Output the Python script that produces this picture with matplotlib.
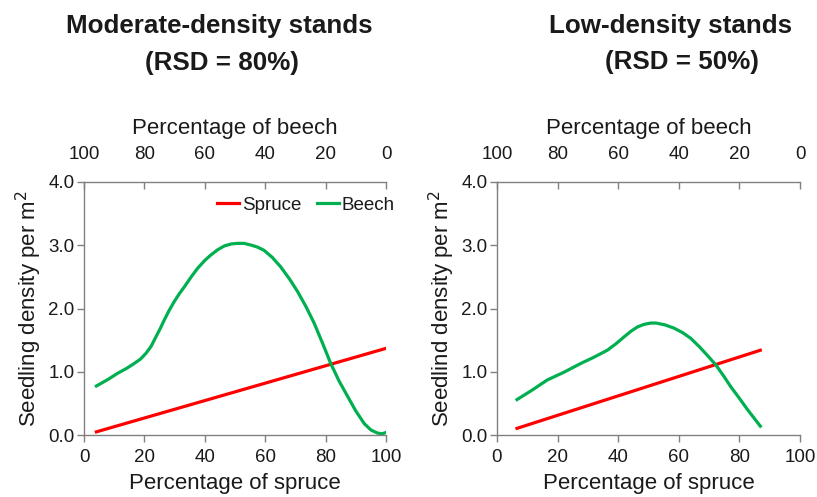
import matplotlib.pyplot as plt

plt.rcParams['font.family'] = ['Liberation Sans', 'DejaVu Sans']

# -- Datos --
# Rodales de densidad moderada (RSD = 80%)
mod_spruce_x = [4.1, 100]
mod_spruce_y = [0.05, 1.37]
mod_beech_x = [4.1, 8, 11.1, 14, 16.6, 18.7, 20.5, 22.2, 23.8, 25.2, 26.6, 28.2,
               29.9, 31.5, 33.2, 35.5, 37.7, 40, 42.1, 44.3, 46.5, 48.7, 50.9, 53,
               55.5, 57.5, 59.6, 62.3, 65.1, 68, 70.7, 73.5, 76.2, 79, 81.7, 84.5,
               87.3, 90, 92.8, 95, 97.2, 98.8, 100]
mod_beech_y = [0.775, 0.88, 0.975, 1.05, 1.13, 1.20, 1.29, 1.40, 1.55, 1.68, 1.82, 1.97,
               2.11, 2.23, 2.34, 2.50, 2.64, 2.76, 2.85, 2.93, 2.99, 3.02, 3.03, 3.03,
               3.00, 2.97, 2.92, 2.81, 2.66, 2.47, 2.27, 2.03, 1.77, 1.45, 1.13, 0.85,
               0.61, 0.38, 0.18, 0.08, 0.03, 0.02, 0.04]

# Rodales de baja densidad (RSD = 50%)
low_spruce_x = [6.6, 86.9]
low_spruce_y = [0.105, 1.34]
low_beech_x = [6.6, 11.6, 16.6, 22, 27.6, 32, 36.4, 39.2, 41.9, 44.2, 46.4, 48.6,
               50.8, 52.5, 55.5, 58.4, 61.2, 63.9, 66.7, 69.4, 72.2, 74.7, 77.2, 80,
               82.7, 84.8, 86.9]
low_beech_y = [0.56, 0.71, 0.87, 0.99, 1.13, 1.23, 1.34, 1.44, 1.55, 1.64, 1.71, 1.75,
               1.77, 1.77, 1.74, 1.69, 1.62, 1.53, 1.40, 1.26, 1.11, 0.94, 0.76, 0.58,
               0.40, 0.27, 0.14]

xticks = [0, 20, 40, 60, 80, 100]
yticks = [0.0, 1.0, 2.0, 3.0, 4.0]

red = '#ff0000'
green = '#00b050'
gray = '#808080'
txt = '#1a1a1a'

fig = plt.figure(figsize=(8.17, 4.97), dpi=100)
ax1 = fig.add_axes([84 / 817, 1 - 435 / 497, 302 / 817, 253 / 497])
ax2 = fig.add_axes([497 / 817, 1 - 435 / 497, 303 / 817, 253 / 497])


def style(ax, ylabel):
    ax.set_xlim(0, 100)
    ax.set_ylim(0, 4)
    ax.set_xticks(xticks)
    ax.set_yticks(yticks)
    ax.set_yticklabels(['%.1f' % v for v in yticks])
    for s in ['top', 'right']:
        ax.spines[s].set_visible(False)
    for s in ['left', 'bottom']:
        ax.spines[s].set_color(gray)
        ax.spines[s].set_linewidth(1)
    ax.tick_params(axis='x', direction='out', length=5, width=1, color=gray,
                   labelsize=13.5, labelcolor=txt, pad=5)
    ax.tick_params(axis='y', direction='out', length=5, width=1, color=gray,
                   labelsize=13.5, labelcolor=txt, pad=2)
    ax.set_xlabel('Percentage of spruce', fontsize=16, color=txt, labelpad=5)
    ax.set_ylabel(ylabel, fontsize=16, color=txt, labelpad=3)

    top = ax.secondary_xaxis('top', functions=(lambda x: 100 - x, lambda x: 100 - x))
    top.set_xticks(xticks)
    top.spines['top'].set_color(gray)
    top.spines['top'].set_linewidth(1)
    top.tick_params(direction='in', length=5, width=1, color=gray,
                    labelsize=13.5, labelcolor=txt, pad=14)
    top.set_xlabel('Percentage of beech', fontsize=16, color=txt, labelpad=8)


ax1.plot(mod_spruce_x, mod_spruce_y, color=red, lw=2.3, label='Spruce',
         solid_joinstyle='round')
ax1.plot(mod_beech_x, mod_beech_y, color=green, lw=2.3, label='Beech',
         solid_joinstyle='round')
style(ax1, 'Seedling density per m$^2$')
ax1.legend(loc='center left', bbox_to_anchor=(0.44, 0.909), ncol=2, frameon=False,
           fontsize=13.5, handlelength=1.2, handletextpad=0.15, columnspacing=0.8,
           borderpad=0, borderaxespad=0, labelcolor=txt)

ax2.plot(low_spruce_x, low_spruce_y, color=red, lw=2.3, solid_joinstyle='round')
ax2.plot(low_beech_x, low_beech_y, color=green, lw=2.3, solid_joinstyle='round')
style(ax2, 'Seedlind density per m$^2$')

fig.text(219 / 817, 1 - 26 / 497, 'Moderate-density stands', ha='center', va='center',
         fontsize=18.7, fontweight='bold', color=txt)
fig.text(222 / 817, 1 - 63 / 497, '(RSD = 80%)', ha='center', va='center',
         fontsize=18.7, fontweight='bold', color=txt)
fig.text(671 / 817, 1 - 26 / 497, 'Low-density stands', ha='center', va='center',
         fontsize=18.7, fontweight='bold', color=txt)
fig.text(682 / 817, 1 - 62 / 497, '(RSD = 50%)', ha='center', va='center',
         fontsize=18.7, fontweight='bold', color=txt)

fig.savefig('out.png', dpi=100)
